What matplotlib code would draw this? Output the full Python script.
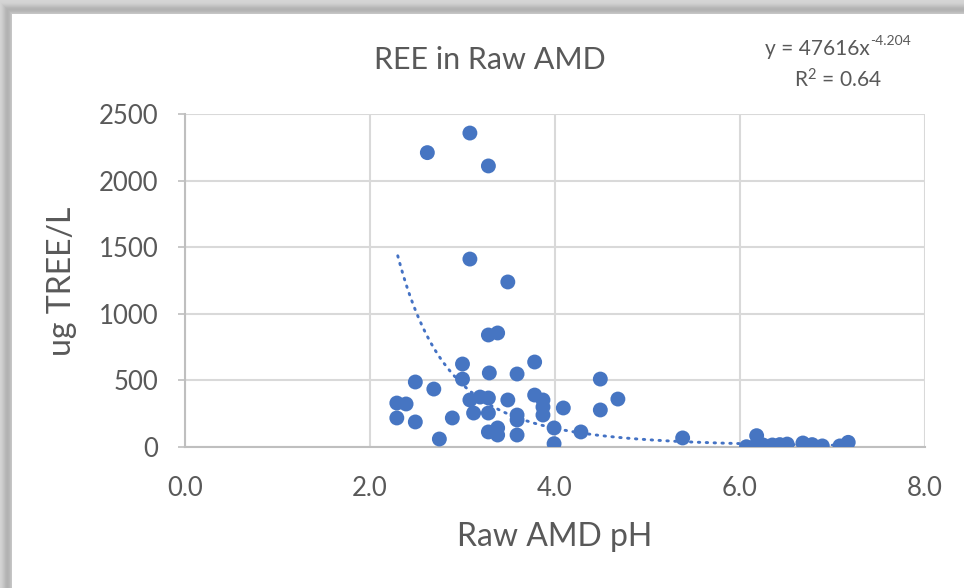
import numpy as np
import matplotlib
matplotlib.use("Agg")
import matplotlib.pyplot as plt

plt.rcParams['font.family'] = ['Lato', 'DejaVu Sans']
plt.rcParams['mathtext.default'] = 'regular'

# Data
ph = [2.62, 3.08, 3.28, 3.08, 3.49, 3.28, 3.38,
      2.49, 2.29, 2.39, 2.29, 2.49, 2.69, 2.75, 2.89, 3.00, 3.00,
      3.08, 3.12, 3.19, 3.28, 3.29, 3.28, 3.28, 3.38, 3.38, 3.49,
      3.59, 3.59, 3.59, 3.59, 3.78, 3.78, 3.87, 3.87, 3.87, 4.09,
      3.99, 3.99, 4.28, 4.49, 4.49, 4.68, 5.38,
      6.18, 6.07, 6.16, 6.25, 6.35, 6.43, 6.51, 6.68, 6.78, 6.89, 7.08, 7.17]
tree = [2210, 2357, 2110, 1411, 1239, 841, 856,
        488, 330, 323, 218, 188, 435, 60, 218, 623, 510,
        353, 255, 375, 368, 556, 255, 113, 143, 90, 353,
        548, 240, 203, 90, 638, 390, 353, 300, 240, 293,
        143, 25, 113, 510, 278, 360, 68,
        85, 2, 5, 15, 15, 18, 22, 30, 18, 8, 8, 35]

fit_a = 47616
fit_b = -4.204
fit_r2 = 0.64
fit_range = (2.3, 7.2)

x_ticks = [0.0, 2.0, 4.0, 6.0, 8.0]
y_ticks = [0, 500, 1000, 1500, 2000, 2500]

W, H = 964, 588
fig = plt.figure(figsize=(W / 100, H / 100), dpi=100)
fig.patch.set_facecolor('white')

# Shadowed frame background
yy, xx = np.mgrid[0:H, 0:W].astype(float)
d = np.maximum(14 - yy, 12 - xx)          # distance outside the white card
shade = np.where(d > 0, 0.84 - 0.14 * np.exp(-((d - 5.0) / 4.5) ** 2), 1.0)
img = np.repeat(shade[..., None], 3, axis=2)
fig.figimage(img, 0, 0, origin='upper', zorder=-5)

ax = fig.add_axes([185 / W, 1 - 447 / H, (925 - 185) / W, (447 - 114) / H])
ax.set_zorder(2)
ax.set_facecolor('none')

xs = np.linspace(fit_range[0], fit_range[1], 300)
ax.plot(xs, fit_a * xs ** fit_b, linestyle=(0, (0.5, 2.2)), color='#4472C4',
        linewidth=2.1, dash_capstyle='round', zorder=2)
ax.scatter(ph, tree, s=115, color='#4675C2', edgecolors='none', zorder=3)

ax.set_xlim(0, 8)
ax.set_ylim(0, 2500)
ax.set_xticks(x_ticks)
ax.set_xticklabels([f"{v:.1f}" for v in x_ticks])
ax.set_yticks(y_ticks)
ax.set_yticklabels([str(v) for v in y_ticks])
ax.grid(True, color='#d9d9d9', linewidth=1.5, zorder=0)
ax.set_axisbelow(True)
for s in ['top', 'right']:
    ax.spines[s].set_visible(False)
for s in ['left', 'bottom']:
    ax.spines[s].set_color('#bfbfbf')
    ax.spines[s].set_linewidth(1.5)
ax.tick_params(axis='x', length=0, pad=21, labelsize=18.5, labelcolor='#595959')
ax.tick_params(axis='y', length=5, width=1.2, color='#bfbfbf', pad=14,
               labelsize=18.5, labelcolor='#595959', direction='out')

fig.text(490 / W, 1 - 60 / H, 'REE in Raw AMD', ha='center', va='center',
         fontsize=22, color='#595959')
fig.text(555 / W, 1 - 537 / H, 'Raw AMD pH', ha='center', va='center',
         fontsize=23, color='#595959')
fig.text(62 / W, 1 - 281 / H, 'ug TREE/L', ha='center', va='center',
         rotation=90, fontsize=23, color='#595959')
fig.text(870 / W, 1 - 49 / H, f'y = {fit_a}x', ha='right',
         va='center', fontsize=15, color='#595959')
fig.text(870 / W, 1 - 41 / H, f'{fit_b}', ha='left',
         va='center', fontsize=10, color='#595959')
fig.text(838 / W, 1 - 80 / H, f'R$^2$ = {fit_r2:.2f}', ha='center',
         va='center', fontsize=15, color='#595959')

fig.savefig('out.png', dpi=100)
